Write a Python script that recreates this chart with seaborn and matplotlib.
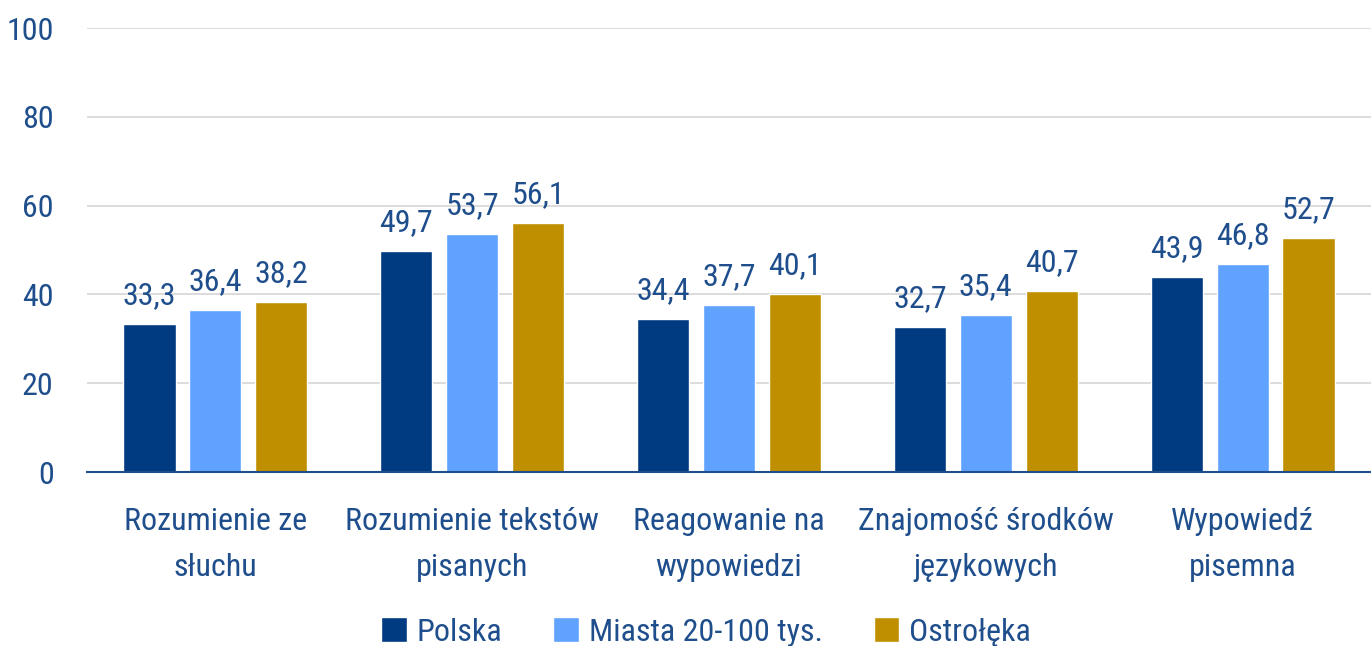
import numpy as np
import seaborn as sns
import matplotlib.pyplot as plt
import pandas as pd
from matplotlib import font_manager

categories = ["Rozumienie ze\nsłuchu", "Rozumienie tekstów\npisanych", "Reagowanie na\nwypowiedzi",
              "Znajomość środków\njęzykowych", "Wypowiedź\npisemna"]
series = ["Polska", "Miasta 20-100 tys.", "Ostrołęka"]
polska = [33.3, 49.7, 34.4, 32.7, 43.9]
miasta = [36.4, 53.7, 37.7, 35.4, 46.8]
ostroleka = [38.2, 56.1, 40.1, 40.7, 52.7]
colors = ["#003A80", "#5FA2FF", "#BF8F00"]
text_color = "#1F4E8C"

installed = {f.name for f in font_manager.fontManager.ttflist}
if "Roboto Condensed" in installed:
    family, fs = "Roboto Condensed", 23
else:
    family, fs = "Roboto", 20

sns.set_theme(style="white")
plt.rcParams['font.family'] = [family, 'DejaVu Sans']

df = pd.DataFrame({
    "Kategoria": categories * 3,
    "Seria": [s for s in series for _ in categories],
    "Wartość": polska + miasta + ostroleka,
})

fig = plt.figure(figsize=(13.71, 6.46), dpi=100)
ax = fig.add_axes([87 / 1371, 1 - 472 / 646, 1 - 87 / 1371, (472 - 28) / 646])

sns.barplot(data=df, x="Kategoria", y="Wartość", hue="Seria", palette=colors,
            width=0.77, gap=0.21, ax=ax, legend=True, saturation=1)

for cont in ax.containers:
    labels = [f"{v:.1f}".replace(".", ",") for v in cont.datavalues]
    ax.bar_label(cont, labels=labels, padding=10, fontsize=fs, color=text_color)

ax.set_ylim(0, 100)
ax.set_yticks([0, 20, 40, 60, 80, 100])
ax.set_xlim(-0.5, 4.5)
ax.yaxis.grid(True, color="#D9D9D9", linewidth=1.3)
ax.set_axisbelow(True)
for s in ["top", "right", "left"]:
    ax.spines[s].set_visible(False)
ax.spines["bottom"].set_color("#1F4E8C")
ax.spines["bottom"].set_linewidth(1.5)
ax.tick_params(axis="both", length=0, labelsize=fs, colors=text_color)
ax.tick_params(axis="y", pad=24)
ax.tick_params(axis="x", pad=25)
for lbl in ax.get_xticklabels():
    lbl.set_linespacing(1.75)
ax.set_xlabel("")
ax.set_ylabel("")

handles, labs = ax.get_legend_handles_labels()
ax.get_legend().remove()
leg = fig.legend(handles, labs, loc="center", bbox_to_anchor=(706 / 1371, 1 - 632 / 646),
                 ncol=3, frameon=False, fontsize=fs, handlelength=0.8, handleheight=0.8,
                 handletextpad=0.3, columnspacing=1.6)
for t in leg.get_texts():
    t.set_color(text_color)

fig.savefig("out.png", dpi=100)
